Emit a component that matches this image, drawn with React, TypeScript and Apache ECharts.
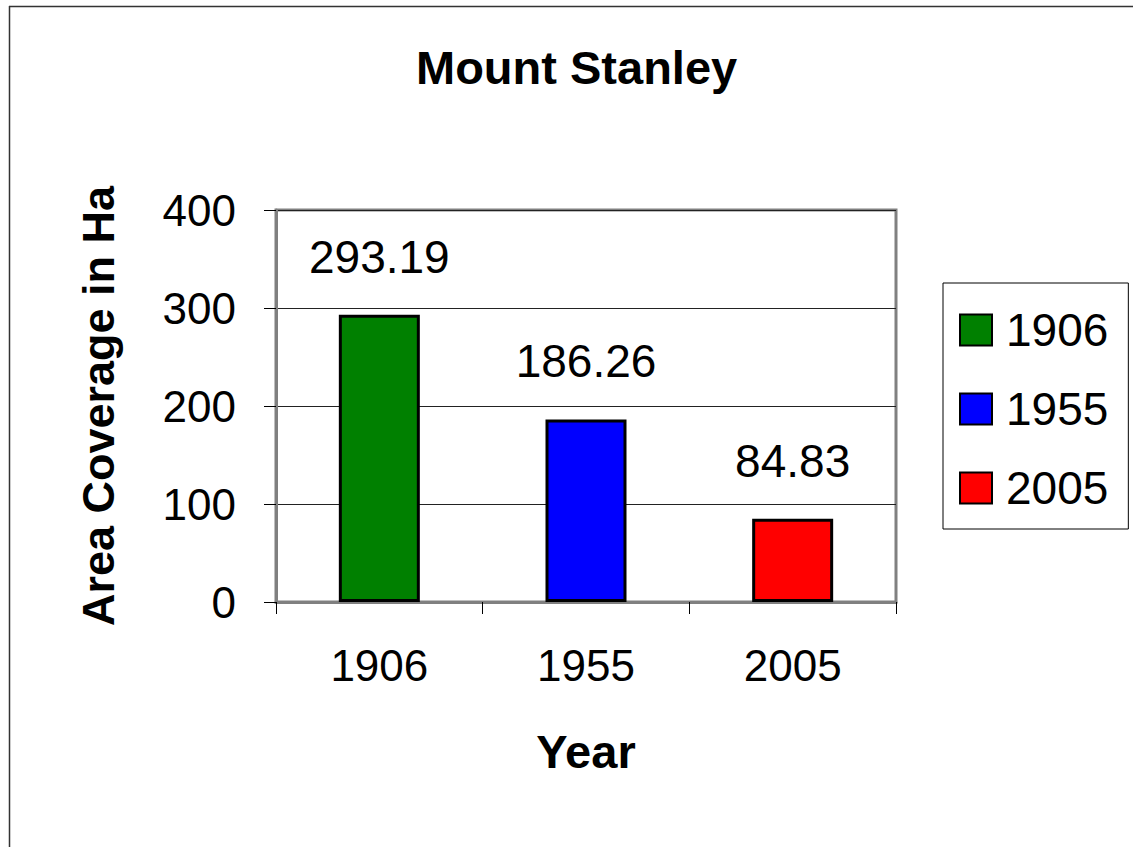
import React, { useEffect, useRef } from "react";
import * as echarts from "echarts";

const categories = ["1906", "1955", "2005"];
const seriesNames = ["1906", "1955", "2005"];
const values = [293.19, 186.26, 84.83];
const colors = ["#008000", "#0000FF", "#FF0000"];
const yTicks = { min: 0, max: 400, interval: 100 };

const FONT = "'Liberation Sans', Arial, sans-serif";

export default function App() {
  const ref = useRef<HTMLDivElement>(null);
  useEffect(() => {
    if (!ref.current) return;
    const chart = echarts.init(ref.current, null, { renderer: "svg" });
    const series = seriesNames.map((name, i) => ({
      name,
      type: "bar",
      stack: "all",
      barWidth: 81,
      data: categories.map((_, j) => (j === i ? values[i] : "-")),
      itemStyle: { color: colors[i], borderColor: "#000", borderWidth: 3 },
      label: {
        show: true,
        position: "top",
        distance: 35,
        fontSize: 46,
        fontFamily: FONT,
        color: "#000",
        formatter: "{c}",
      },
    }));
    chart.setOption({
      animation: false,
      backgroundColor: "#fff",
      textStyle: { fontFamily: FONT },
      title: {
        text: "Mount Stanley",
        left: 416,
        top: 44,
        padding: 0,
        textStyle: { fontSize: 47, fontWeight: "bold", color: "#000", fontFamily: FONT },
      },
      legend: {
        orient: "vertical",
        left: 943,
        top: 283,
        padding: [24, 20, 18, 16],
        borderColor: "#000",
        borderWidth: 1,
        itemWidth: 32,
        itemHeight: 31,
        itemGap: 33,
        icon: "rect",
        data: seriesNames,
        textStyle: { fontSize: 46, color: "#000", fontFamily: FONT, padding: [0, 0, 0, 9] },
      },
      grid: {
        left: 276,
        top: 210,
        width: 620,
        height: 392,
        show: true,
        borderColor: "#808080",
        borderWidth: 3,
      },
      xAxis: {
        type: "category",
        data: categories,
        name: "Year",
        nameLocation: "middle",
        nameGap: 126,
        nameTextStyle: { fontSize: 47, fontWeight: "bold", color: "#000", fontFamily: FONT },
        axisLine: { show: true, lineStyle: { color: "#808080", width: 3 } },
        axisTick: { show: true, length: 12, inside: false, lineStyle: { color: "#000", width: 1 } },
        axisLabel: { fontSize: 44, color: "#000", margin: 41, fontFamily: FONT },
      },
      yAxis: {
        type: "value",
        min: yTicks.min,
        max: yTicks.max,
        interval: yTicks.interval,
        name: "Area Coverage in Ha",
        nameLocation: "middle",
        nameGap: 155,
        nameRotate: 90,
        nameTextStyle: { fontSize: 45, fontWeight: "bold", color: "#000", fontFamily: FONT },
        axisLine: { show: true, lineStyle: { color: "#808080", width: 3 } },
        axisTick: { show: true, length: 12, inside: false, lineStyle: { color: "#000", width: 1 } },
        axisLabel: { fontSize: 44, color: "#000", margin: 40, fontFamily: FONT },
        splitLine: { show: true, lineStyle: { color: "#222", width: 1 } },
      },
      graphic: [
        { type: "line", shape: { x1: 9, y1: 6.5, x2: 1133, y2: 6.5 }, style: { stroke: "#333", lineWidth: 1.5 } },
        { type: "line", shape: { x1: 9.5, y1: 6, x2: 9.5, y2: 847 }, style: { stroke: "#333", lineWidth: 1.5 } },
      ],
      series,
    });
    return () => chart.dispose();
  }, []);
  return (
    <div
      ref={ref}
      style={{ position: "absolute", left: 0, top: 0, width: 1133, height: 847 }}
    />
  );
}
